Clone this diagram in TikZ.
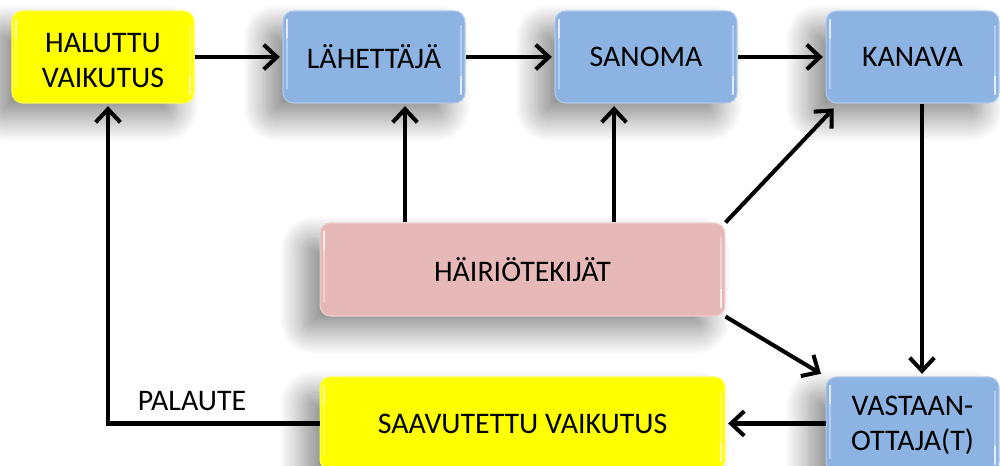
\documentclass[tikz,border=0pt]{standalone}
\usepackage{fontspec}
\setmainfont{Carlito}
\usetikzlibrary{arrows.meta,shadows.blur,calc}
\definecolor{bluebox}{HTML}{8DB3E2}
\definecolor{pinkbox}{HTML}{E6B9B8}
\definecolor{yelbox}{HTML}{FFFF00}
\tikzset{
  box/.style={rectangle, rounded corners=6pt, align=center, text=black,
    font=\fontsize{17}{20}\selectfont, line width=0.6pt,
    blur shadow={shadow xshift=-10pt, shadow yshift=-9pt, shadow blur radius=13pt,
      shadow blur steps=25, shadow opacity=45},
    path picture={
      \draw[white, opacity=0.75, line width=1.3pt, line cap=round]
        ([xshift=2.2pt,yshift=-5pt]path picture bounding box.north west) --
        ([xshift=2.2pt,yshift=-15pt]path picture bounding box.north west);
      \draw[white, opacity=0.75, line width=1.3pt, line cap=round]
        ([xshift=-2.2pt,yshift=5pt]path picture bounding box.south east) --
        ([xshift=-2.2pt,yshift=15pt]path picture bounding box.south east);
      \draw[white, opacity=0.35, line width=1pt]
        ([xshift=2.2pt,yshift=-15pt]path picture bounding box.north west) --
        ([xshift=2.2pt,yshift=8pt]path picture bounding box.south west);
      \draw[white, opacity=0.35, line width=1pt]
        ([xshift=-2.2pt,yshift=15pt]path picture bounding box.south east) --
        ([xshift=-2.2pt,yshift=-8pt]path picture bounding box.north east);
    }},
  bluenode/.style={box, fill=bluebox, draw=bluebox!70!white},
  yelnode/.style={box, fill=yelbox, draw=yelbox!70!white},
  pinknode/.style={box, fill=pinkbox, draw=pinkbox!70!white},
  arr/.style={line width=2.3pt, -{Straight Barb[length=7.5pt,width=14pt,line width=2.3pt]},
    shorten >=1.5pt},
  lbl/.style={font=\fontsize{17}{20}\selectfont, text=black, inner sep=0pt}
}
\begin{document}
\begin{tikzpicture}[x=0.02cm,y=-0.02cm]
\useasboundingbox (0,0) rectangle (1000,466);
% nodes
\node[yelnode, minimum width=3.64cm, minimum height=1.84cm] (hal) at (103,57) {\rule{0pt}{15pt}HALUTTU\\VAIKUTUS};
\node[bluenode, minimum width=3.64cm, minimum height=1.84cm] (lah) at (374,57) {LÄHETTÄJÄ};
\node[bluenode, minimum width=3.64cm, minimum height=1.84cm] (san) at (646,57) {SANOMA};
\node[bluenode, minimum width=3.46cm, minimum height=1.84cm] (kan) at (912.5,57) {KANAVA};
\node[pinknode, minimum width=8.1cm, minimum height=1.86cm] (hai) at (522.5,269.5) {HÄIRIÖTEKIJÄT};
\node[yelnode, minimum width=8.1cm, minimum height=1.86cm] (sav) at (522.5,423.5) {SAAVUTETTU VAIKUTUS};
\node[bluenode, minimum width=3.46cm, minimum height=1.92cm] (vas) at (912.5,425) {VASTAAN-\\OTTAJA(T)};
\node[lbl] (pal) at (192,401) {PALAUTE};
% guides
\coordinate (xl) at (405,0);
\coordinate (xs) at (614,0);
\coordinate (xk) at (922,0);
\coordinate (xf) at (108,0);
% connectors
\draw[arr] (hal.east) -- (lah.west);
\draw[arr] (lah.east) -- (san.west);
\draw[arr] (san.east) -- (kan.west);
\draw[arr] (hai.north -| xl) -- (lah.south -| xl);
\draw[arr] (hai.north -| xs) -- (san.south -| xs);
\draw[arr] (hai.north east) -- ([xshift=0.2cm,yshift=-0.06cm]kan.south west);
\draw[arr, shorten >=3pt] (hai.south east) -- (vas.north west);
\draw[arr] (kan.south -| xk) -- (vas.north -| xk);
\draw[arr] (vas.west |- sav.east) -- (sav.east);
\draw[arr] (sav.west) -| (hal.south -| xf);
\end{tikzpicture}
\end{document}
